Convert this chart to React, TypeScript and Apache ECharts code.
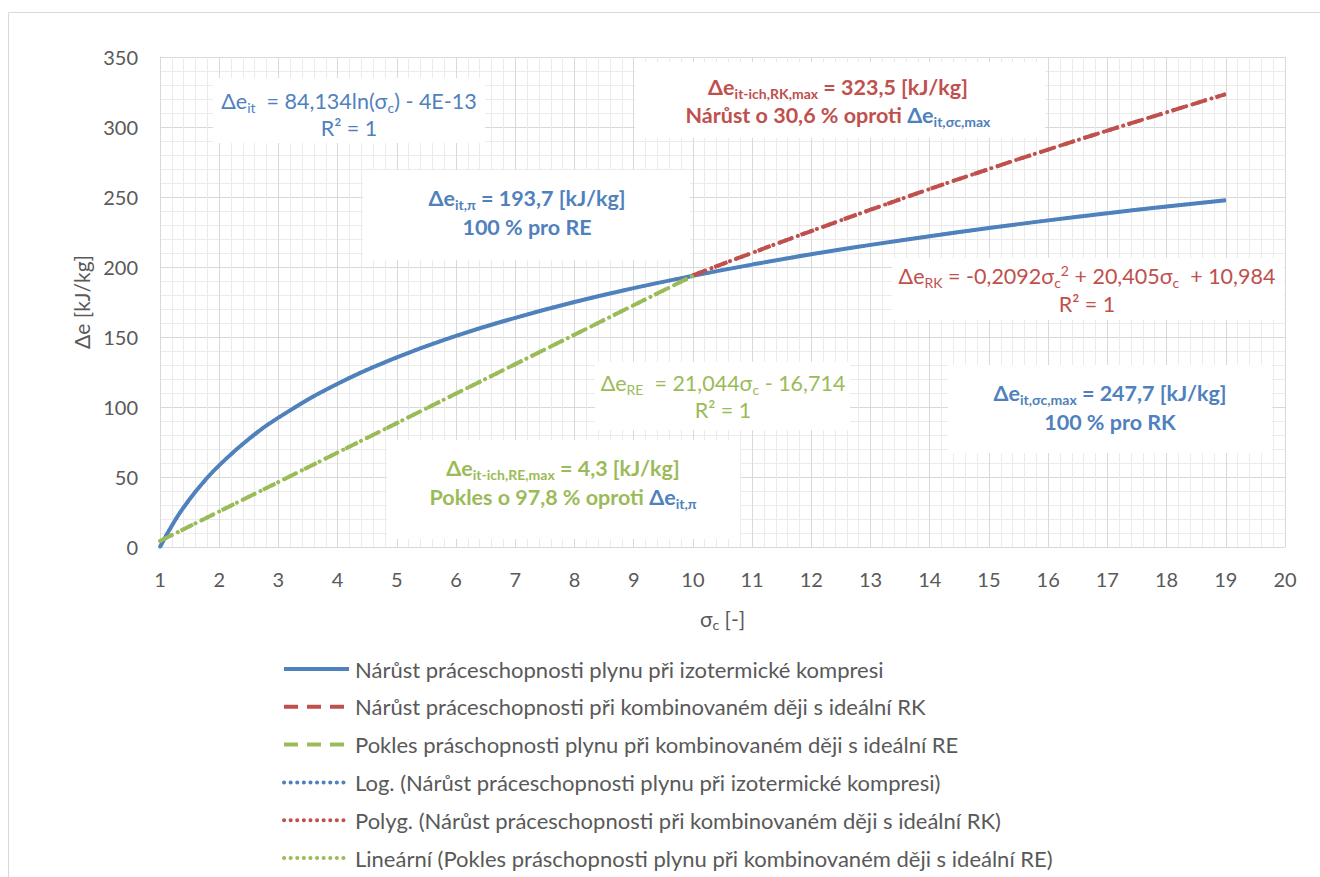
import React, { useEffect, useRef } from 'react';
import * as echarts from 'echarts';

// ---- data ----
const sigmaIt = [1, 1.25, 1.5, 1.75, 2, 2.5, 3, 4, 5, 6, 7, 8, 9, 10, 11, 12, 13, 14, 15, 16, 17, 18, 19];
const deIt = [0, 18.8, 34.1, 47.1, 58.3, 77.1, 92.4, 116.6, 135.4, 150.8, 163.7, 175.0, 184.9, 193.7, 201.7, 209.1, 215.8, 222.0, 227.8, 233.3, 238.4, 243.2, 247.7];

const sigmaRK = [10, 11, 12, 13, 14, 15, 16, 17, 18, 19];
const deRK = [194.1, 210.1, 225.7, 240.9, 255.7, 270.0, 283.9, 297.4, 310.5, 323.5];

const sigmaRE = [1, 2, 3, 4, 5, 6, 7, 8, 9, 10];
const deRE = [4.3, 25.4, 46.4, 67.5, 88.5, 109.6, 130.6, 151.6, 172.7, 193.7];

const seriesNames = [
  'Nárůst práceschopnosti plynu při izotermické kompresi',
  'Nárůst práceschopnosti při kombinovaném ději s ideální RK',
  'Pokles práschopnosti plynu při kombinovaném ději s ideální RE',
  'Log. (Nárůst práceschopnosti plynu při izotermické kompresi)',
  'Polyg. (Nárůst práceschopnosti při kombinovaném ději s ideální RK)',
  'Lineární (Pokles práschopnosti plynu při kombinovaném ději s ideální RE)',
];

const xTicks = { min: 1, max: 20, interval: 1 };
const yTicks = { min: 0, max: 350, interval: 50 };

const BLUE = '#4F81BD';
const RED = '#C0504D';
const GREEN = '#9BBB59';
const GREY_TXT = '#595959';
const FONT = 'Lato, "Open Sans", sans-serif';
const ANN = 21.5;

const zip = (xs: number[], ys: number[]) => xs.map((x, i) => [x, ys[i]]);

function richStyles(color: string, size: number, bold: boolean) {
  const fw = bold ? 'bold' : 'normal';
  const small = Math.round(size * 0.66);
  return {
    n: { fill: color, fontSize: size, fontFamily: FONT, fontWeight: fw, lineHeight: 26 },
    s: { fill: color, fontSize: small, fontFamily: FONT, fontWeight: fw, lineHeight: 12, verticalAlign: 'bottom' },
    p: { fill: color, fontSize: small, fontFamily: FONT, fontWeight: fw, lineHeight: 12, verticalAlign: 'top' },
    bn: { fill: BLUE, fontSize: size, fontFamily: FONT, fontWeight: fw, lineHeight: 26 },
    bs: { fill: BLUE, fontSize: small, fontFamily: FONT, fontWeight: fw, lineHeight: 12, verticalAlign: 'bottom' },
  };
}

function txt(x: number, y: number, text: string, color: string, size: number, bold: boolean) {
  return {
    type: 'text',
    x,
    y,
    z: 6,
    style: {
      text,
      rich: richStyles(color, size, bold),
      align: 'center',
      verticalAlign: 'middle',
      fill: color,
      fontSize: size,
      fontFamily: FONT,
    },
  };
}

function box(x: number, y: number, w: number, h: number) {
  return { type: 'rect', z: 5, shape: { x, y, width: w, height: h }, style: { fill: '#ffffff' } };
}

export default function App() {
  const ref = useRef<HTMLDivElement>(null);
  useEffect(() => {
    const chart = echarts.init(ref.current!, null, { renderer: 'svg', width: 1320, height: 877 });
    const axisLabel = { color: GREY_TXT, fontSize: 20, fontFamily: FONT, margin: 22 };
    const option: any = {
      animation: false,
      backgroundColor: '#ffffff',
      grid: { left: 160, right: 35, top: 57, bottom: 330, containLabel: false },
      xAxis: {
        type: 'value',
        ...xTicks,
        axisLine: { show: true, lineStyle: { color: '#d9d9d9', width: 1 } },
        axisTick: { show: false },
        axisLabel,
        splitLine: { show: true, lineStyle: { color: '#d9d9d9', width: 1 } },
        minorTick: { show: false, splitNumber: 5 },
        minorSplitLine: { show: true, lineStyle: { color: '#ebebeb', width: 1 } },
        name: '{a|σ}{s|c}{a| [-]}',
        nameLocation: 'middle',
        nameGap: 58,
        nameTextStyle: {
          rich: {
            a: { color: GREY_TXT, fontSize: 21, fontFamily: FONT, lineHeight: 26 },
            s: { color: GREY_TXT, fontSize: 14, fontFamily: FONT, lineHeight: 12, verticalAlign: 'bottom' },
          },
        },
      },
      yAxis: {
        type: 'value',
        ...yTicks,
        axisLine: { show: true, lineStyle: { color: '#d9d9d9', width: 1 } },
        axisTick: { show: false },
        axisLabel,
        splitLine: { show: true, lineStyle: { color: '#d9d9d9', width: 1 } },
        minorTick: { show: false, splitNumber: 5 },
        minorSplitLine: { show: true, lineStyle: { color: '#ebebeb', width: 1 } },
        name: 'Δe [kJ/kg]',
        nameLocation: 'middle',
        nameGap: 52,
        nameTextStyle: { color: GREY_TXT, fontSize: 21, fontFamily: FONT },
      },
      legend: {
        orient: 'vertical',
        left: 282,
        top: 657,
        height: 230,
        padding: 0,
        itemWidth: 65,
        itemHeight: 14,
        itemGap: 13.8,
        data: seriesNames,
        itemStyle: { opacity: 0 },
        lineStyle: { width: 4 },
        textStyle: { color: GREY_TXT, fontSize: 22, fontFamily: FONT, lineHeight: 24, padding: [0, 0, 0, 1] },
      },
      series: [
        {
          name: seriesNames[3], type: 'line', data: zip(sigmaIt, deIt), smooth: true, symbol: 'none', z: 2,
          lineStyle: { color: BLUE, width: 3.5, type: [0.1, 6.5], cap: 'round' }, itemStyle: { color: BLUE },
        },
        {
          name: seriesNames[0], type: 'line', data: zip(sigmaIt, deIt), smooth: true, symbol: 'none', z: 3,
          lineStyle: { color: BLUE, width: 4, type: 'solid' }, itemStyle: { color: BLUE },
        },
        {
          name: seriesNames[1], type: 'line', data: zip(sigmaRK, deRK), smooth: true, symbol: 'none', z: 4,
          lineStyle: { color: RED, width: 4, type: [14, 9] }, itemStyle: { color: RED },
        },
        {
          name: seriesNames[4], type: 'line', data: zip(sigmaRK, deRK), smooth: true, symbol: 'none', z: 4,
          lineStyle: { color: RED, width: 4, type: [0.1, 6.5], cap: 'round' }, itemStyle: { color: RED },
        },
        {
          name: seriesNames[2], type: 'line', data: zip(sigmaRE, deRE), smooth: false, symbol: 'none', z: 4,
          lineStyle: { color: GREEN, width: 4, type: [14, 9] }, itemStyle: { color: GREEN },
        },
        {
          name: seriesNames[5], type: 'line', data: zip(sigmaRE, deRE), smooth: false, symbol: 'none', z: 4,
          lineStyle: { color: GREEN, width: 4, type: [0.1, 6.5], cap: 'round' }, itemStyle: { color: GREEN },
        },
      ],
      graphic: [
        { type: 'rect', z: 0, shape: { x: 8.5, y: 12.5, width: 1340, height: 900 }, style: { fill: 'none', stroke: '#d9d9d9', lineWidth: 1 } },
        // blue log equation
        box(213, 78, 272, 65),
        txt(349, 101, '{n|Δe}{s|it}{n|  = 84,134ln(σ}{s|c}{n|) - 4E-13}', BLUE, ANN, false),
        txt(349, 128, '{n|R² = 1}', BLUE, ANN, false),
        // red max
        box(635, 62, 410, 76),
        txt(838, 87, '{n|Δe}{s|it-ich,RK,max}{n| = 323,5 [kJ/kg]}', RED, ANN, true),
        txt(838, 115, '{n|Nárůst o 30,6 % oproti }{bn|Δe}{bs|it,σc,max}', RED, ANN, true),
        // blue pi
        box(363, 170, 327, 90),
        txt(527, 198, '{n|Δe}{s|it,π}{n| = 193,7 [kJ/kg]}', BLUE, ANN, true),
        txt(527, 227, '{n|100 % pro RE}', BLUE, ANN, true),
        // red RK equation
        box(892, 258, 392, 62),
        txt(1087, 276, '{n|Δe}{s|RK}{n| = -0,2092σ}{s|c}{p|2}{n| + 20,405σ}{s|c}{n|  + 10,984}', RED, ANN, false),
        txt(1087, 304, '{n|R² = 1}', RED, ANN, false),
        // green RE equation
        box(595, 362, 255, 68),
        txt(723, 383, '{n|Δe}{s|RE}{n|  = 21,044σ}{s|c}{n| - 16,714}', GREEN, ANN, false),
        txt(723, 410, '{n|R² = 1}', GREEN, ANN, false),
        // green max
        box(387, 440, 353, 99),
        txt(563, 468, '{n|Δe}{s|it-ich,RE,max}{n| = 4,3 [kJ/kg]}', GREEN, ANN, true),
        txt(563, 497, '{n|Pokles o 97,8 % oproti }{bn|Δe}{bs|it,π}', GREEN, ANN, true),
        // blue sigma max
        box(948, 365, 324, 88),
        txt(1110, 393, '{n|Δe}{s|it,σc,max}{n| = 247,7 [kJ/kg]}', BLUE, ANN, true),
        txt(1110, 422, '{n|100 % pro RK}', BLUE, ANN, true),
      ],
    };
    chart.setOption(option);
    return () => chart.dispose();
  }, []);
  return (
    <div
      ref={ref}
      style={{ position: 'absolute', left: 0, top: 0, width: 1320, height: 877, background: '#ffffff' }}
    />
  );
}
